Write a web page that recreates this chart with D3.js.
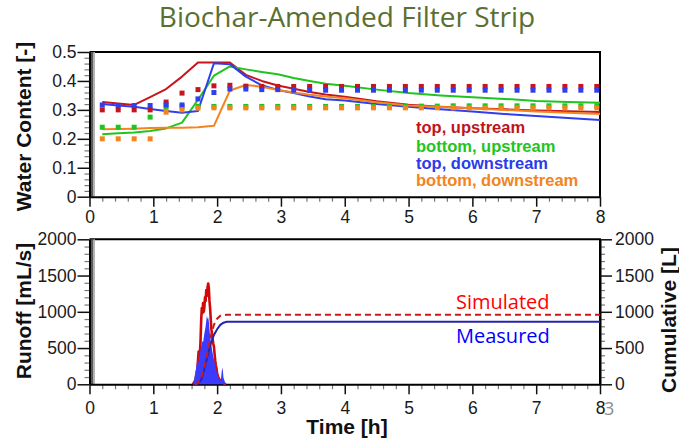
<!DOCTYPE html>
<html>
<head>
<meta charset="utf-8">
<script src="https://cdn.jsdelivr.net/npm/d3@7"></script>
<style>
body { margin: 0; background: #fff; }
svg { display: block; }
.tick text { font-family: "Liberation Sans", Arial, sans-serif; font-size: 17.5px; fill: #1a1a1a; }
</style>
</head>
<body>
<svg id="chart"></svg>
<script>
// measured water content (squares), every 15 min
const measTimes = [0.2, 0.45, 0.7, 0.95, 1.2, 1.45, 1.7, 1.95, 2.2, 2.45, 2.7, 2.95, 3.2, 3.45, 3.7, 3.95,
    4.2, 4.45, 4.7, 4.95, 5.2, 5.45, 5.7, 5.95, 6.2, 6.45, 6.7, 6.95, 7.2, 7.45, 7.7, 7.95];
const measTopUp = [0.30, 0.30, 0.30, 0.30, 0.327, 0.358, 0.37, 0.383, 0.385, 0.382, 0.381, 0.381, 0.381, 0.381, 0.381, 0.381,
    0.381, 0.381, 0.381, 0.381, 0.381, 0.381, 0.381, 0.381, 0.381, 0.381, 0.381, 0.381, 0.381, 0.381, 0.381, 0.381];
const measBotUp = [0.24, 0.24, 0.24, 0.275, 0.309, 0.311, 0.312, 0.312, 0.312, 0.312, 0.312, 0.312, 0.312, 0.312, 0.312, 0.312,
    0.312, 0.312, 0.312, 0.312, 0.313, 0.313, 0.314, 0.314, 0.314, 0.314, 0.314, 0.314, 0.314, 0.314, 0.314, 0.314];
const measTopDown = [0.317, 0.315, 0.315, 0.315, 0.317, 0.317, 0.338, 0.36, 0.372, 0.372, 0.37, 0.37, 0.368, 0.368, 0.368, 0.368,
    0.368, 0.368, 0.368, 0.368, 0.368, 0.368, 0.368, 0.368, 0.368, 0.368, 0.368, 0.368, 0.368, 0.368, 0.368, 0.368];
const measBotDown = [0.20, 0.20, 0.20, 0.20, 0.292, 0.30, 0.306, 0.307, 0.307, 0.307, 0.307, 0.307, 0.307, 0.307, 0.307, 0.307,
    0.307, 0.307, 0.307, 0.307, 0.307, 0.307, 0.307, 0.307, 0.307, 0.307, 0.307, 0.307, 0.307, 0.307, 0.307, 0.307];

// simulated water content (lines)
const simTimes = [0.2, 0.45, 0.7, 0.95, 1.2, 1.45, 1.7, 1.95, 2.2, 2.45, 2.7, 2.95, 3.2, 3.45, 3.7, 4, 4.5, 5, 5.5, 6, 6.5, 7, 7.5, 8];
const simTopUp = [0.327, 0.322, 0.317, 0.344, 0.372, 0.415, 0.464, 0.464, 0.464, 0.421, 0.40, 0.384, 0.373, 0.362, 0.353, 0.345, 0.33, 0.318, 0.311, 0.306, 0.302, 0.298, 0.295, 0.293];
const simBotUp = [0.216, 0.219, 0.222, 0.227, 0.236, 0.256, 0.335, 0.418, 0.45, 0.44, 0.431, 0.423, 0.41, 0.40, 0.39, 0.383, 0.37, 0.358, 0.35, 0.344, 0.338, 0.331, 0.327, 0.325];
const simTopDown = [0.32, 0.315, 0.311, 0.303, 0.296, 0.29, 0.296, 0.461, 0.458, 0.415, 0.385, 0.369, 0.358, 0.346, 0.337, 0.332, 0.32, 0.311, 0.302, 0.294, 0.286, 0.279, 0.272, 0.265];
const simBotDown = [0.233, 0.234, 0.235, 0.237, 0.238, 0.238, 0.24, 0.245, 0.367, 0.386, 0.38, 0.369, 0.36, 0.352, 0.346, 0.34, 0.326, 0.315, 0.31, 0.306, 0.30, 0.294, 0.29, 0.286];

const seriesNames = ["top, upstream", "bottom, upstream", "top, downstream", "bottom, downstream"];

// runoff rate [mL/s]
const simRunT = [1.62, 1.66, 1.69, 1.70, 1.71, 1.72, 1.73, 1.74, 1.75, 1.76, 1.77, 1.78, 1.79, 1.80, 1.81, 1.82, 1.83, 1.84, 1.85, 1.86, 1.87, 1.88,
    1.89, 1.90, 1.91, 1.92, 1.93, 1.94, 1.95, 1.96, 1.97, 1.98, 1.99, 2.00, 2.02, 2.04, 2.06, 2.08, 2.10, 2.12, 2.14];
const simRun = [0, 60, 200, 330, 450, 380, 420, 600, 880, 1050, 980, 1120, 1000, 1060, 1200, 1150, 1300, 1220, 1340, 1390, 1330, 1150,
    1050, 900, 760, 700, 620, 560, 520, 420, 330, 260, 220, 150, 90, 60, 40, 25, 15, 5, 0];
const measRunT = [1.63, 1.65, 1.67, 1.69, 1.71, 1.73, 1.75, 1.77, 1.78, 1.80, 1.82, 1.83, 1.84, 1.85, 1.86, 1.87, 1.88, 1.89, 1.90,
    1.91, 1.92, 1.94, 1.96, 1.98, 2.00, 2.01, 2.03, 2.05, 2.06, 2.07, 2.08, 2.09, 2.10, 2.12, 2.14];
const measRun = [0, 120, 220, 330, 300, 430, 520, 600, 580, 700, 800, 880, 950, 900, 920, 870, 760, 680, 600,
    540, 480, 380, 300, 220, 150, 110, 80, 50, 70, 160, 230, 190, 90, 40, 0];

// cumulative runoff [L]
const simCumT = [1.65, 1.70, 1.75, 1.80, 1.85, 1.90, 1.95, 2.00, 2.05, 2.10, 2.15, 8];
const simCum = [0, 20, 90, 230, 440, 660, 820, 905, 945, 955, 958, 958];
const measCumT = [1.65, 1.70, 1.75, 1.80, 1.85, 1.90, 1.95, 2.00, 2.05, 2.10, 2.15, 8];
const measCum = [0, 10, 60, 210, 390, 560, 680, 760, 820, 850, 862, 862];

const xTicks = [0, 1, 2, 3, 4, 5, 6, 7, 8];
const wcTicks = [0, 0.1, 0.2, 0.3, 0.4, 0.5];
const runTicks = [0, 500, 1000, 1500, 2000];

const W = 679, H = 439;
const colors = ["#c4161c", "#1fc41f", "#2f3ff0", "#f5841f"];
const textColors = ["#c0131b", "#22c422", "#2b3be8", "#f38420"];

const svg = d3.select("#chart").attr("width", W).attr("height", H);
svg.append("rect").attr("width", W).attr("height", H).attr("fill", "#fff");

const x = d3.scaleLinear().domain([0, 8]).range([89.5, 600]);
const yWc = d3.scaleLinear().domain([0, 0.5]).range([196.7, 52]);
const yRun = d3.scaleLinear().domain([0, 2000]).range([384.3, 239.3]);
const yCum = d3.scaleLinear().domain([0, 2000]).range([384.3, 239.3]);

const xMinor = d3.range(0, 8.001, 0.2).filter(v => Math.abs(v - Math.round(v)) > 0.01);
const wcMinor = d3.range(0, 0.5001, 0.02).filter(v => Math.abs(v * 10 - Math.round(v * 10)) > 0.01);
const runMinor = d3.range(0, 2001, 100).filter(v => v % 500 !== 0);

//title
svg.append("text")
    .attr("x", 347).attr("y", 27)
    .attr("text-anchor", "middle")
    .attr("font-family", "Open Sans, Noto Sans, sans-serif")
    .attr("font-size", 28)
    .attr("fill", "#5b7030")
    .text("Biochar-Amended Filter Strip");

function styleAxis(g) {
    g.select(".domain").attr("stroke", "#000").attr("stroke-width", 2);
    g.selectAll(".tick line").attr("stroke", "#111").attr("stroke-width", 1.5);
}
function minorAxis(g) {
    g.select(".domain").remove();
    g.selectAll(".tick line").attr("stroke", "#777").attr("stroke-width", 1.2);
}

function frame(yScale, yTicks, yMinor, fmt, xPad) {
    const y0 = yScale.range()[0], y1 = yScale.range()[1];
    // top and right borders
    svg.append("line").attr("x1", x(0)).attr("x2", x(8) + 1).attr("y1", y1).attr("y2", y1)
        .attr("stroke", "#000").attr("stroke-width", 2);
    svg.append("line").attr("x1", x(8)).attr("x2", x(8)).attr("y1", y1).attr("y2", y0)
        .attr("stroke", "#000").attr("stroke-width", 2);
    // shaded left edge
    svg.append("rect").attr("x", x(0) + 1).attr("y", y1).attr("width", 3).attr("height", y0 - y1).attr("fill", "#5a5a5a");
    svg.append("rect").attr("x", x(0) + 4).attr("y", y1).attr("width", 1.5).attr("height", y0 - y1).attr("fill", "#b5b5b5");

    svg.append("g").attr("transform", `translate(0,${y0})`)
        .call(d3.axisBottom(x).tickValues(xMinor).tickSize(5).tickSizeOuter(0).tickFormat(""))
        .call(minorAxis);
    svg.append("g").attr("transform", `translate(0,${y0})`)
        .call(d3.axisBottom(x).tickValues(xTicks).tickSize(10).tickSizeOuter(0).tickPadding(xPad).tickFormat(d3.format("d")))
        .call(styleAxis);

    svg.append("g").attr("transform", `translate(${x(0)},0)`)
        .call(d3.axisLeft(yScale).tickValues(yMinor).tickSize(5).tickSizeOuter(0).tickFormat(""))
        .call(minorAxis);
    svg.append("g").attr("transform", `translate(${x(0)},0)`)
        .call(d3.axisLeft(yScale).tickValues(yTicks).tickSize(12).tickSizeOuter(0).tickPadding(1).tickFormat(fmt))
        .call(styleAxis);
}

frame(yWc, wcTicks, wcMinor, d => d === 0 ? "0" : d3.format(".1f")(d), 4);
frame(yRun, runTicks, runMinor, d3.format("d"), 7);

// right axis (cumulative)
svg.append("g").attr("transform", `translate(${x(8)},0)`)
    .call(d3.axisRight(yCum).tickValues(runMinor).tickSize(5).tickSizeOuter(0).tickFormat(""))
    .call(minorAxis);
svg.append("g").attr("transform", `translate(${x(8)},0)`)
    .call(d3.axisRight(yCum).tickValues(runTicks).tickSize(12).tickSizeOuter(0).tickPadding(3).tickFormat(d3.format("d")))
    .call(styleAxis);

// water content lines
const sims = [simTopUp, simBotUp, simTopDown, simBotDown];
const meas = [measTopUp, measBotUp, measTopDown, measBotDown];
const wcLine = d3.line().x(d => x(d[0])).y(d => yWc(d[1]));

sims.forEach((s, i) => {
    svg.append("path")
        .datum(simTimes.map((t, k) => [t, s[k]]))
        .attr("d", wcLine)
        .attr("fill", "none")
        .attr("stroke", colors[i])
        .attr("stroke-width", 2)
        .attr("stroke-linejoin", "round");
});

meas.forEach((s, i) => {
    svg.append("g").selectAll("rect")
        .data(measTimes.map((t, k) => [t, s[k]]))
        .enter().append("rect")
        .attr("x", d => x(d[0]) - 2.5)
        .attr("y", d => yWc(d[1]) - 2.5)
        .attr("width", 5)
        .attr("height", 5)
        .attr("fill", colors[i]);
});

// legend
const legY = [133, 152, 169, 186];
seriesNames.forEach((n, i) => {
    svg.append("text")
        .attr("x", 416).attr("y", legY[i])
        .attr("font-family", "Liberation Sans, Arial, sans-serif")
        .attr("font-weight", "bold")
        .attr("font-size", 16.5)
        .attr("fill", textColors[i])
        .text(n);
});

// runoff rate
const runLine = d3.line().x(d => x(d[0])).y(d => yRun(d[1]));
svg.append("path")
    .datum(simRunT.map((t, k) => [t, simRun[k]]))
    .attr("d", runLine)
    .attr("fill", "none")
    .attr("stroke", "#d00a0a")
    .attr("stroke-width", 2.6)
    .attr("stroke-linejoin", "round");

svg.append("path")
    .datum(measRunT.map((t, k) => [t, measRun[k]]))
    .attr("d", d3.area().x(d => x(d[0])).y0(yRun(0)).y1(d => yRun(d[1])))
    .attr("fill", "#3b3bff");

// cumulative
const cumLine = d3.line().x(d => x(d[0])).y(d => yCum(d[1]));
svg.append("path")
    .datum(measCumT.map((t, k) => [t, measCum[k]]))
    .attr("d", cumLine)
    .attr("fill", "none")
    .attr("stroke", "#2424b0")
    .attr("stroke-width", 2);
svg.append("path")
    .datum(simCumT.map((t, k) => [t, simCum[k]]))
    .attr("d", cumLine)
    .attr("fill", "none")
    .attr("stroke", "#cc1a1a")
    .attr("stroke-width", 2)
    .attr("stroke-dasharray", "6,4");

svg.append("text").attr("x", 456).attr("y", 309)
    .attr("font-family", "Open Sans, sans-serif").attr("font-size", 20)
    .attr("fill", "#ff0000").text("Simulated");
svg.append("text").attr("x", 456).attr("y", 343)
    .attr("font-family", "Open Sans, sans-serif").attr("font-size", 20)
    .attr("fill", "#0000ff").text("Measured");

// axis titles
function axisTitle(tx, ty, rot, label) {
    svg.append("text")
        .attr("transform", `translate(${tx},${ty}) rotate(${rot})`)
        .attr("text-anchor", "middle")
        .attr("font-family", "Liberation Sans, Arial, sans-serif")
        .attr("font-weight", "bold")
        .attr("font-size", 21)
        .attr("fill", "#111")
        .text(label);
}
axisTitle(31, 126.5, -90, "Water Content [-]");
axisTitle(31, 311, -90, "Runoff [mL/s]");
axisTitle(676, 320, -90, "Cumulative [L]");
axisTitle(347, 434, 0, "Time [h]");

// slide number
svg.append("text").attr("x", 604).attr("y", 415)
    .attr("font-family", "Open Sans, sans-serif").attr("font-size", 18)
    .attr("fill", "#8c8c8c").text("3");
</script>
</body>
</html>
